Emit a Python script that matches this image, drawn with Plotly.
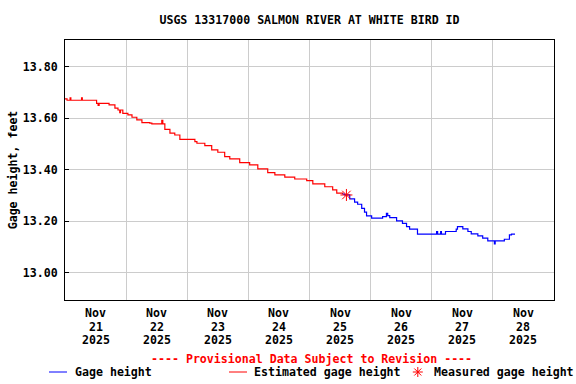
import pandas as pd
import plotly.graph_objects as go

# ---- data (hours after 2025-11-21 00:00, gage height in feet) ----
est_hours = [0, 0.8, 2.0, 2.3, 6.5, 6.8, 12.4, 13.0, 13.4, 16.9, 17.3, 19.6, 20.8, 21.5, 21.8,
             22.7, 24.7, 26.3, 28.2, 30.2, 33.3, 34.1, 38.0, 38.4, 39.2, 41.2, 43.1, 45.1,
             51.0, 51.8, 54.9, 57.6, 60.0, 62.7, 64.7, 68.6, 72.5, 75.7, 79.6, 82.4, 86.3,
             90.2, 94.9, 97.3, 102.0, 105.1, 106.7, 109.0]
est_values = [13.675, 13.670, 13.679, 13.670, 13.679, 13.670, 13.658, 13.650, 13.658, 13.658,
              13.652, 13.639, 13.632, 13.622, 13.632, 13.619, 13.613, 13.604, 13.594, 13.583,
              13.581, 13.578, 13.592, 13.578, 13.557, 13.542, 13.535, 13.518, 13.509, 13.503,
              13.494, 13.477, 13.468, 13.451, 13.442, 13.428, 13.419, 13.403, 13.389, 13.380,
              13.371, 13.364, 13.358, 13.345, 13.334, 13.322, 13.309, 13.305]

gage_hours = [109.0, 109.8, 111.8, 113.7, 114.9, 116.5, 117.6, 118.4, 120.4, 124.3, 124.7,
              126.2, 126.7, 127.5, 129.8, 130.2, 132.5, 134.1, 135.3, 138.4, 145.1, 145.9,
              146.3, 147.5, 147.8, 149.4, 150.2, 153.6, 154.1, 156.0, 156.2, 158.2, 159.5,
              162.1, 164.0, 166.0, 168.6, 168.9, 172.5, 174.5, 175.3, 176.7]
gage_values = [13.305, 13.302, 13.287, 13.274, 13.266, 13.250, 13.235, 13.221, 13.212, 13.212,
               13.218, 13.231, 13.222, 13.214, 13.214, 13.201, 13.192, 13.179, 13.169, 13.150,
               13.150, 13.160, 13.150, 13.160, 13.150, 13.160, 13.160, 13.169, 13.179, 13.179,
               13.170, 13.160, 13.151, 13.143, 13.134, 13.124, 13.112, 13.124, 13.130, 13.147,
               13.150, 13.150]

meas_hours = [110.5]
meas_values = [13.302]

month_label = "Nov"
days = ["21", "22", "23", "24", "25", "26", "27", "28"]
year_label = "2025"
y_ticks = [13.0, 13.2, 13.4, 13.6, 13.8]
y_labels = ["13.00", "13.20", "13.40", "13.60", "13.80"]

base = pd.Timestamp("2025-11-21 00:00")
to_t = lambda hrs: [base + pd.Timedelta(hours=h) for h in hrs]

FONT = "DejaVu Sans Mono"
FS = 11.6
BLUE = "#0000FF"
RED = "#FF0000"

fig = go.Figure()
fig.add_trace(go.Scatter(x=to_t(est_hours), y=est_values, mode="lines", line_shape="hv",
                         line=dict(color=RED, width=1.2), showlegend=False))
fig.add_trace(go.Scatter(x=to_t(gage_hours), y=gage_values, mode="lines", line_shape="hv",
                         line=dict(color=BLUE, width=1.2), showlegend=False))
fig.add_trace(go.Scatter(x=to_t(meas_hours), y=meas_values, mode="markers",
                         marker=dict(symbol="asterisk-open", size=10, color=RED,
                                     line=dict(color=RED, width=1)), showlegend=False))

noon = [base + pd.Timedelta(hours=12 + 24 * i) for i in range(len(days))]
midnights = [base + pd.Timedelta(days=i) for i in range(1, 8)]

fig.update_layout(
    width=576, height=384,
    margin=dict(l=65, r=22, t=40, b=84, autoexpand=False),
    paper_bgcolor="white", plot_bgcolor="white",
    font=dict(family=FONT, size=FS, color="black", weight="bold"),
    title=dict(text="USGS 13317000 SALMON RIVER AT WHITE BIRD ID", x=0.5, xref="paper",
               y=1 - 20 / 384, yanchor="middle", automargin=False,
               font=dict(family=FONT, size=FS, color="black", weight="bold")),
    xaxis=dict(range=[base, base + pd.Timedelta(days=8)], tickmode="array", tickvals=noon,
               showticklabels=False, ticks="", showgrid=False,
               minor=dict(tickmode="array", tickvals=midnights, showgrid=True,
                          gridcolor="#cccccc", gridwidth=1, ticks=""),
               showline=True, linecolor="black", linewidth=1, mirror=True, zeroline=False,
               automargin=False),
    yaxis=dict(range=[12.894, 13.904], tickmode="array", tickvals=y_ticks, ticktext=y_labels,
               ticks="inside", ticklen=4, tickcolor="black", showgrid=True,
               gridcolor="#cccccc", gridwidth=1, showline=True, linecolor="black",
               linewidth=1, mirror=True, zeroline=False, ticklabelstandoff=4,
               automargin=False,
               title=dict(text="Gage height, feet", standoff=2,
                          font=dict(family=FONT, size=FS, weight="bold"))),
)

px = lambda x: (x - 65) / 489
py = lambda y: (300 - y) / 260

bold = dict(family=FONT, size=FS, weight="bold")

# x tick labels: three rows under each noon tick
for t, d in zip(noon, days):
    for row_text, row_y in [(month_label, 313.3), (d, 326.7), (year_label, 340.0)]:
        fig.add_annotation(text=row_text, x=t, xref="x", y=py(row_y), yref="paper",
                           showarrow=False, xanchor="center", yanchor="middle",
                           font=dict(color="black", **bold))

# legend lines
fig.add_shape(type="line", xref="paper", yref="paper", x0=px(49), x1=px(67), y0=py(372), y1=py(372),
              line=dict(color=BLUE, width=1))
fig.add_shape(type="line", xref="paper", yref="paper", x0=px(229), x1=px(247), y0=py(372), y1=py(372),
              line=dict(color=RED, width=1))
# legend asterisk glyph
cx, cy, r, d = 417.8, 372, 5, 3.5
for (dx0, dy0, dx1, dy1) in [(-r, 0, r, 0), (0, -r, 0, r), (-d, -d, d, d), (-d, d, d, -d)]:
    fig.add_shape(type="line", xref="paper", yref="paper",
                  x0=px(cx + dx0), x1=px(cx + dx1), y0=py(cy + dy0), y1=py(cy + dy1),
                  line=dict(color=RED, width=1))

ann = dict(xref="paper", yref="paper", showarrow=False, yanchor="middle")
fig.add_annotation(text="---- Provisional Data Subject to Revision ----", x=px(311), y=py(358.5),
                   xanchor="center", font=dict(color=RED, **bold), **ann)
fig.add_annotation(text="Gage height", x=px(73), y=py(372), xanchor="left",
                   font=dict(color="black", **bold), **ann)
fig.add_annotation(text="Estimated gage height", x=px(252), y=py(372), xanchor="left",
                   font=dict(color="black", **bold), **ann)
fig.add_annotation(text="Measured gage height", x=px(432), y=py(372), xanchor="left",
                   font=dict(color="black", **bold), **ann)

fig.write_html("out.html", config={"displayModeBar": False},
               post_script="document.body.style.margin='0';document.body.style.overflow='hidden';")
